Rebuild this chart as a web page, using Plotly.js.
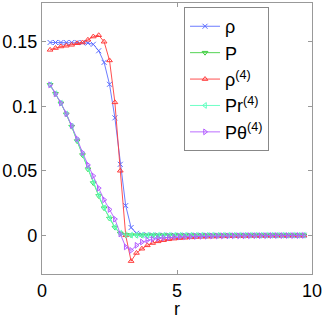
<!DOCTYPE html>
<html>
<head>
<meta charset="utf-8">
<script src="https://cdn.plot.ly/plotly-3.0.1.min.js"></script>
<style>html,body{margin:0;padding:0;background:#fff;}#plot{width:327px;height:319px;}</style>
</head>
<body>
<div id="plot"></div>
<script>
// radial grid
const r = [0.3,0.5,0.7,0.9,1.1,1.3,1.5,1.7,1.9,2.1,2.3,2.5,2.7,2.9,3.1,3.3,3.5,3.7,3.9,4.1,4.3,4.5,4.7,4.9,5.1,5.3,5.5,5.7,5.9,6.1,6.3,6.5,6.7,6.9,7.1,7.3,7.5,7.7,7.9,8.1,8.3,8.5,8.7,8.9,9.1,9.3,9.5,9.7];

const rho = [0.1494,0.1494,0.1494,0.1494,0.1494,0.1494,0.1493,0.1490,0.1480,0.1430,0.1340,0.1170,0.0910,0.0550,0.0230,0.0060,0.0015,0.0005,0.0002,0.0001,0,0,0,0,0,0,0,0,0,0,0,0,0,0,0,0,0,0,0,0,0,0,0,0,0,0,0,0];

const P = [0.1166,0.1096,0.1023,0.0938,0.0842,0.0730,0.0622,0.0512,0.0405,0.0305,0.0210,0.0130,0.0060,0.0015,0.0003,0.0001,0,0,0,0,0,0,0,0,0,0,0,0,0,0,0,0,0,0,0,0,0,0,0,0,0,0,0,0,0,0,0,0];

const rho4 = [0.1437,0.1451,0.1463,0.1469,0.1476,0.1488,0.1494,0.1515,0.1540,0.1550,0.1500,0.1355,0.1030,0.0500,0.0000,-0.0200,-0.0137,-0.0104,-0.0078,-0.0060,-0.0047,-0.0038,-0.0031,-0.0026,-0.0022,-0.0019,-0.0016,-0.0014,-0.0012,-0.0011,-0.0010,-0.0009,-0.0008,-0.0007,-0.0006,-0.0006,-0.0005,-0.0005,-0.0004,-0.0004,-0.0004,-0.0003,-0.0003,-0.0003,-0.0003,-0.0002,-0.0002,-0.0002];

const Pr4 = [0.1166,0.1097,0.1024,0.0940,0.0845,0.0735,0.0627,0.0517,0.0410,0.0310,0.0213,0.0132,0.0062,0.0016,0.0004,0.0001,0,0,0,0,0,0,0,0,0,0,0,0,0,0,0,0,0,0,0,0,0,0,0,0,0,0,0,0,0,0,0,0];

const Ptheta4 = [0.1166,0.1096,0.1025,0.0942,0.0850,0.0748,0.0640,0.0545,0.0460,0.0365,0.0275,0.0200,0.0125,0.0010,-0.0090,-0.0117,-0.0078,-0.0052,-0.0038,-0.0030,-0.0024,-0.0020,-0.0017,-0.0014,-0.0012,-0.0011,-0.0010,-0.0009,-0.0008,-0.0007,-0.0006,-0.0006,-0.0005,-0.0005,-0.0004,-0.0004,-0.0004,-0.0003,-0.0003,-0.0003,-0.0003,-0.0002,-0.0002,-0.0002,-0.0002,-0.0002,-0.0002,-0.0001];

const names = ['\u03c1','P','\u03c1<sup>(4)</sup>','Pr<sup>(4)</sup>','P\u03b8<sup>(4)</sup>'];
const series = [rho, P, rho4, Pr4, Ptheta4];
const colors = ['#5a6cff','#3fcf3f','#ff3b3b','#5fffc0','#b35cff'];
const symbols = ['x-thin-open','triangle-down-open','triangle-up-open','triangle-left-open','triangle-right-open'];

const yTickVals = [0, 0.05, 0.1, 0.15];
const yTickText = ['0','0.05','0.1','0.15'];
const xTickVals = [0, 5, 10];
const xTickText = ['0','5','10'];

const traces = series.map((y, k) => ({
  x: r, y: y, name: names[k], type: 'scatter', mode: 'lines+markers',
  line: {color: colors[k], width: 0.9},
  marker: {symbol: symbols[k], size: 5, color: colors[k], line: {color: colors[k], width: 1}}
}));

const FONT = 'Liberation Sans, Arial, sans-serif';
const axisCommon = {
  showline: true, mirror: 'ticks', linecolor: '#999999', linewidth: 1.2,
  ticks: 'inside', ticklen: 4, tickcolor: '#999999', showgrid: false, zeroline: false,
  tickfont: {family: FONT, size: 18, color: '#000'}
};

const layout = {
  width: 327, height: 319,
  margin: {l: 42, r: 15, t: 3, b: 45},
  paper_bgcolor: '#fff', plot_bgcolor: '#fff',
  showlegend: true,
  legend: {
    x: 0.526, y: 0.985, xanchor: 'left', yanchor: 'top',
    bordercolor: '#888888', borderwidth: 1, bgcolor: '#fff',
    font: {family: FONT, size: 18, color: '#000'},
    itemwidth: 30
  },
  xaxis: Object.assign({}, axisCommon, {
    range: [0, 10], tickvals: xTickVals, ticktext: xTickText,
    title: {text: 'r', font: {family: FONT, size: 18, color: '#000'}, standoff: 0}
  }),
  yaxis: Object.assign({}, axisCommon, {
    range: [-0.03, 0.18], tickvals: yTickVals, ticktext: yTickText
  })
};

Plotly.newPlot('plot', traces, layout, {displayModeBar: false, staticPlot: true});
</script>
</body>
</html>
